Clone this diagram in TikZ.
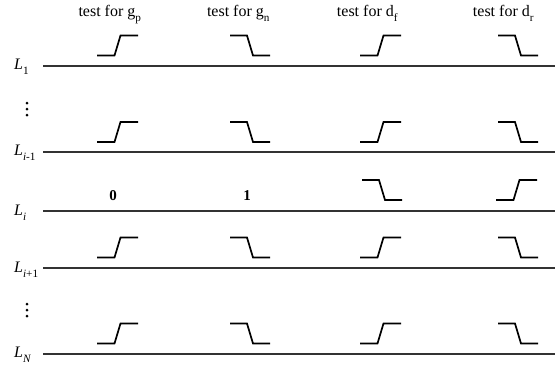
\documentclass[tikz,border=0pt]{standalone}
\usepackage{fontspec}
\setmainfont{Liberation Serif}
\newcommand{\lowsub}[1]{\raisebox{-0.35ex}{\textsubscript{#1}}}
\tikzset{
  wave/.style={line width=1.7pt, line join=miter},
  rail/.style={line width=1.3pt, draw=black!80},
  hdr/.style={font=\fontsize{16}{19}\selectfont, inner sep=0pt, anchor=base},
  lab/.style={font=\fontsize{16}{19}\selectfont, inner sep=0pt, anchor=west},
  bit/.style={font=\fontsize{15}{18}\selectfont\bfseries, inner sep=0pt},
  rise/.pic={\draw[wave] (0,0) -- (17.5,0) -- (23.5,-20) -- (41,-20);},
  fall/.pic={\draw[wave] (0,-20) -- (17,-20) -- (23,0) -- (40,0);}
}
\begin{document}
\begin{tikzpicture}[x=1pt,y=-1pt]
\useasboundingbox (0,0) rectangle (555,370);
% headers
\node[hdr] (h1) at (110,16) {test for g\lowsub{p}};
\node[hdr] (h2) at (238.5,16) {test for g\lowsub{n}};
\node[hdr] (h3) at (367.5,16) {test for d\lowsub{f}};
\node[hdr] (h4) at (503.5,16) {test for d\lowsub{r}};
% row labels
\node[lab] (l1) at (14,67) {\textit{L}\lowsub{1}};
\node[lab] (l2) at (14,153) {\textit{L}\lowsub{\textit{i}-1}};
\node[lab] (l3) at (14,213) {\textit{L}\lowsub{\textit{i}}};
\node[lab] (l4) at (14,270) {\textit{L}\lowsub{\textit{i}+1}};
\node[lab] (l5) at (14,355) {\textit{L}\lowsub{\textit{N}}};
% dots
\foreach \y in {103,109,115,304,310,316} \fill (27,\y) circle (1.5);
% rails
\foreach \y in {66,152,211,268,354} \draw[rail] (43,\y) -- (555,\y);
% waveforms
\foreach \y in {55.5,142,257.5,343.5} {
  \pic at (97,\y) {rise};
  \pic at (230,\y) {fall};
  \pic at (360,\y) {rise};
  \pic at (498,\y) {fall};
}
\node[bit] (b0) at (113,196) {0};
\node[bit] (b1) at (247,196) {1};
\pic at (362,200) {fall};
\pic at (496,200) {rise};
\end{tikzpicture}
\end{document}
